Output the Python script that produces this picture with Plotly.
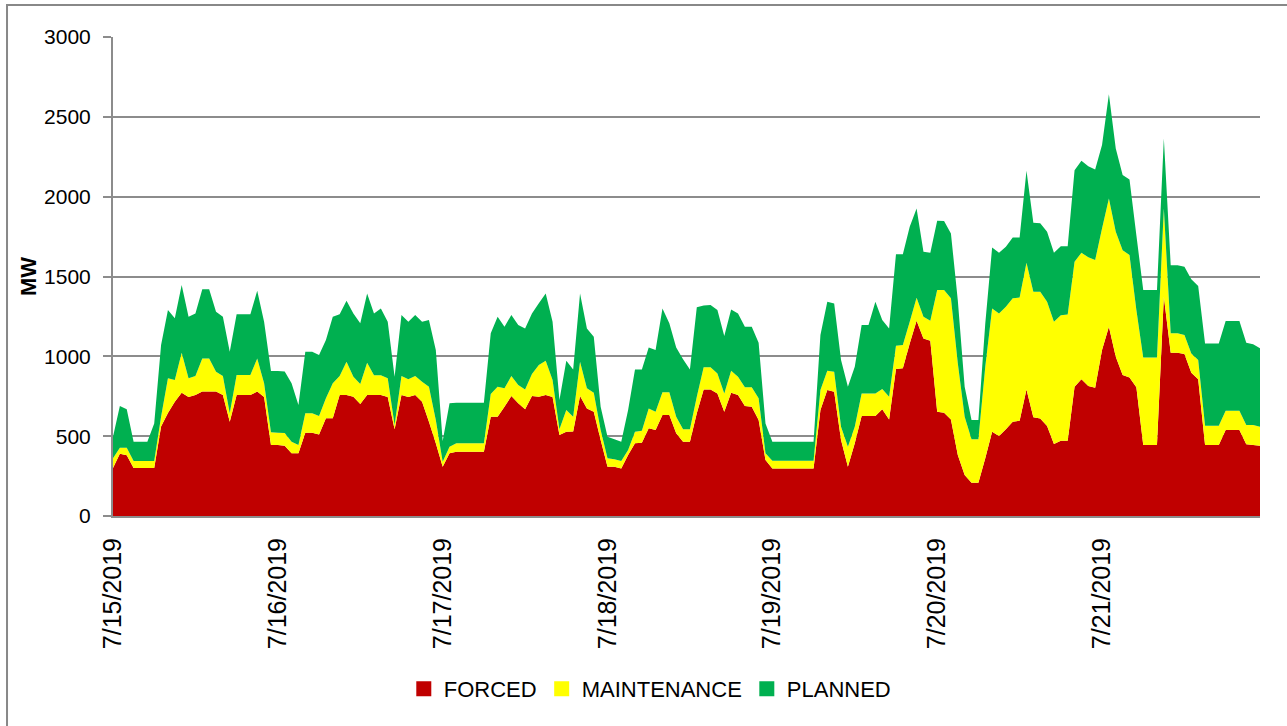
import plotly.graph_objects as go

# hourly outage MW, 7/15/2019 00:00 .. 7/21/2019 23:00
day_labels = ['7/15/2019', '7/16/2019', '7/17/2019', '7/18/2019',
              '7/19/2019', '7/20/2019', '7/21/2019']

forced = [300, 390, 380, 300, 300, 300, 300, 560, 645, 716, 772, 745,
          758, 779, 779, 779, 758, 591, 758, 758, 758, 779, 745, 445,
          445, 440, 393, 393, 522, 522, 511, 612, 612, 758, 758, 747,
          701, 758, 758, 758, 745, 543, 758, 745, 758, 716, 591, 455,
          309, 393, 403, 403, 403, 403, 403, 622, 622, 685, 751, 706,
          668, 751, 747, 758, 745, 507, 528, 530, 751, 674, 653, 476,
          309, 309, 298, 382, 455, 458, 549, 539, 632, 632, 518, 465,
          465, 643, 793, 793, 768, 653, 772, 758, 689, 685, 601, 351,
          298, 298, 298, 298, 298, 298, 298, 664, 789, 778, 476, 309,
          455, 626, 626, 626, 668, 605, 920, 925, 1081, 1223, 1112, 1098,
          653, 647, 605, 382, 257, 209, 209, 361, 528, 501, 543, 591,
          597, 793, 618, 611, 563, 451, 472, 472, 810, 856, 814, 803,
          1040, 1185, 998, 883, 868, 806, 445, 445, 445, 1373, 1023, 1023,
          1014, 897, 856, 445, 445, 445, 538, 538, 538, 449, 445, 440]

maintenance = [61, 38, 48, 44, 44, 44, 44, 62, 217, 136, 251, 117,
               119, 208, 208, 125, 119, 52, 125, 125, 125, 208, 86, 79,
               77, 80, 72, 52, 121, 121, 115, 125, 219, 119, 208, 125,
               126, 202, 123, 123, 117, 27, 119, 111, 119, 125, 219, 146,
               31, 41, 52, 52, 52, 52, 52, 142, 188, 115, 126, 114,
               125, 138, 199, 215, 107, 36, 136, 92, 215, 126, 119, 63,
               52, 46, 47, 31, 73, 76, 125, 114, 143, 143, 104, 78,
               78, 104, 138, 138, 125, 115, 138, 114, 117, 121, 136, 42,
               48, 48, 48, 48, 48, 48, 48, 125, 121, 126, 83, 125,
               104, 142, 142, 142, 127, 142, 146, 146, 136, 144, 136, 125,
               762, 768, 758, 574, 365, 271, 271, 574, 772, 768, 768, 772,
               772, 793, 787, 794, 779, 766, 786, 790, 782, 793, 806, 800,
               760, 804, 782, 782, 766, 484, 548, 548, 548, 553, 121, 121,
               119, 121, 121, 121, 121, 121, 121, 121, 121, 121, 125, 119]

planned = [136, 261, 240, 121, 121, 121, 236, 449, 428, 386, 423, 386,
           392, 433, 433, 375, 371, 386, 380, 380, 380, 424, 386, 384,
           386, 385, 366, 250, 386, 386, 382, 365, 417, 386, 382, 397,
           380, 434, 388, 419, 355, 302, 382, 361, 382, 376, 417, 438,
           130, 272, 255, 255, 255, 255, 255, 380, 438, 386, 382, 376,
           382, 380, 386, 421, 365, 183, 309, 296, 428, 375, 351, 146,
           136, 125, 120, 251, 390, 384, 382, 386, 525, 432, 434, 438,
           375, 560, 388, 390, 397, 359, 384, 397, 380, 380, 348, 187,
           119, 119, 119, 119, 119, 119, 119, 344, 432, 427, 418, 376,
           376, 428, 428, 574, 432, 428, 574, 569, 594, 559, 407, 426,
           434, 432, 407, 396, 188, 121, 121, 271, 382, 380, 375, 382,
           376, 576, 432, 428, 438, 432, 432, 428, 574, 576, 571, 567,
           523, 653, 522, 470, 474, 469, 422, 422, 422, 439, 427, 427,
           428, 464, 463, 515, 515, 515, 562, 562, 562, 515, 505, 491]

hours = list(range(len(forced)))
series = [('FORCED', forced, '#C00000'),
          ('MAINTENANCE', maintenance, '#FFFF00'),
          ('PLANNED', planned, '#00B050')]

fig = go.Figure()
for name, vals, col in series:
    fig.add_trace(go.Scatter(x=hours, y=vals, name=name, stackgroup='one',
                             mode='none', fillcolor=col, showlegend=False,
                             hoverinfo='x+y+name'))
# square legend keys
for name, vals, col in series:
    fig.add_trace(go.Scatter(x=[None], y=[None], name=name, mode='markers',
                             marker=dict(symbol='square', size=15, color=col)))

fig.update_layout(
    width=1287, height=726,
    margin=dict(l=113, r=27, t=37, b=210),
    paper_bgcolor='white', plot_bgcolor='white',
    font=dict(family='Liberation Sans, Arial, sans-serif', size=20, color='black'),
    legend=dict(orientation='h', traceorder='normal', x=0.468, xanchor='center',
                y=-0.361, yanchor='middle', font=dict(size=22)),
    shapes=[dict(type='rect', xref='paper', yref='paper',
                 x0=-0.0924, x1=1.1, y0=-0.6, y1=1.0668,
                 line=dict(color='#888888', width=2), fillcolor='rgba(0,0,0,0)',
                 layer='below')],
)
fig.update_xaxes(range=[0, len(hours) - 1], tickvals=[24 * i for i in range(len(day_labels))],
                 ticktext=day_labels, tickangle=-90, showgrid=False,
                 showline=True, linecolor='#8c8c8c', linewidth=2,
                 ticks='outside', ticklen=10, tickcolor='rgba(0,0,0,0)',
                 tickfont=dict(size=25))
fig.update_yaxes(range=[0, 3000], dtick=500, showgrid=True, gridcolor='#8c8c8c',
                 gridwidth=2, showline=True, linecolor='#8c8c8c', linewidth=2,
                 ticks='outside', ticklen=8, tickcolor='#8c8c8c', tickwidth=2,
                 ticklabelstandoff=8, zeroline=False, tickfont=dict(size=21),
                 title=dict(text='<b>MW</b>', font=dict(size=22), standoff=1))

fig.write_html("out.html", config={'displayModeBar': False},
               post_script="document.body.style.margin='0';")
